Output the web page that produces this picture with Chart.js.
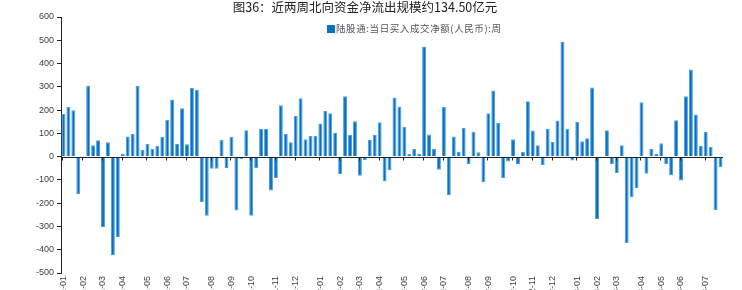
<!DOCTYPE html>
<html>
<head>
<meta charset="utf-8">
<script src="https://cdn.jsdelivr.net/npm/chart.js@4/dist/chart.umd.min.js"></script>
<style>
  html, body { margin: 0; padding: 0; background: #fff; }
  #wrap { position: relative; width: 742px; height: 290px; overflow: hidden; }
  #title {
    position: absolute; left: 0; top: 0; width: 730px; text-align: center;
    font: 12.5px "Noto Sans CJK SC", sans-serif; line-height: 14px; color: #222;
  }
  #legend {
    position: absolute; left: 327px; top: 22px;
    font: 9.5px "Noto Sans CJK SC", serif; line-height: 12px; color: #555;
    letter-spacing: 0.6px;
  }
  #legend span.box {
    display: inline-block; width: 8px; height: 8px; background: #0a70c2;
    vertical-align: -1px; margin-right: 1px;
  }
  canvas { position: absolute; left: 0; top: 0; }
</style>
</head>
<body>
<div id="wrap">
  <canvas id="chart" width="742" height="290"></canvas>
  <div id="title">图36：近两周北向资金净流出规模约134.50亿元</div>
  <div id="legend"><span class="box"></span>陆股通:当日买入成交净额(人民币):周</div>
</div>
<script>
// ──────────────────────────────────────────────────────────────
// Data (亿元, weekly)
// ──────────────────────────────────────────────────────────────
const seriesName = "陆股通:当日买入成交净额(人民币):周";

const values2021a = [
  183, 213, 199, -162, 3, 305, 49, 70, -302, 62, -424, -345, 12, 86,
  97, 305, 30, 54, 34, 47, 85, 158, 246, 54, 208, 53, 295,
];
const values2021b = [
  287, -196, -254, -52, -52, 73, -49, 85, -231, -11, 113, -254, -49,
  119, 119, -146, -92, 221, 97, 62, 175, 251, 75, 90, 90, 142,
];
const values2022a = [
  196, 186, 102, -75, 259, 93, 152, -82, -16, 72, 93, 148, -107, -59,
  254, 215, 128, 11, 33, 11, 473, 95, 34, -56, 213, -165, 87,
];
const values2022b = [
  21, 123, -32, 107, 19, -110, 186, 284, 145, -93, -21, 75, -32, 21,
  238, 112, 49, -36, 119, 63, 155, 493, 120, -17, 150, 66, 79,
];
const values2023 = [
  297, -268, 2, 113, -32, -70, 49, -371, -175, -136, 234, -73, 33, 11,
  57, -32, -80, 156, -103, 259, 374, 181, 46, 106, 42, -229, -46,
];
const netBuy = [...values2021a, ...values2021b, ...values2022a, ...values2022b, ...values2023];

// weekly categories (Fridays), 2021-01-08 onward
const firstWeek = "2021-01-08";
const weeks = [];
{
  const d = new Date(firstWeek + "T00:00:00Z");
  for (let i = 0; i < netBuy.length; i++) {
    weeks.push(d.toISOString().slice(0, 10));
    d.setUTCDate(d.getUTCDate() + 7);
  }
}
// a tick label on the first week of each month
const tickLabels = weeks.map((w, i) =>
  i === 0 || w.slice(0, 7) !== weeks[i - 1].slice(0, 7) ? w.slice(0, 7) : ""
);

const yTicks = { min: -500, max: 600, step: 100 };

// ──────────────────────────────────────────────────────────────
// Zero line + month ticks on it
// ──────────────────────────────────────────────────────────────
const zeroAxis = {
  id: "zeroAxis",
  afterDatasetsDraw(chart) {
    const { ctx, chartArea, scales } = chart;
    const y0 = Math.round(scales.y.getPixelForValue(0)) + 0.5;
    ctx.save();
    ctx.strokeStyle = "#222";
    ctx.lineWidth = 1;
    ctx.beginPath();
    ctx.moveTo(chartArea.left, y0);
    ctx.lineTo(chartArea.right, y0);
    tickLabels.forEach((t, i) => {
      if (!t) return;
      const px = Math.round(scales.x.getPixelForValue(i)) - 0.5;
      ctx.moveTo(px, y0);
      ctx.lineTo(px, y0 + 3);
    });
    ctx.stroke();
    ctx.restore();
  },
};

Chart.defaults.font.family = '"Liberation Sans", Arial, sans-serif';
Chart.defaults.color = "#404040";

new Chart(document.getElementById("chart"), {
  type: "bar",
  data: {
    labels: weeks,
    datasets: [{
      label: seriesName,
      data: netBuy,
      backgroundColor: "#0870c4",
      borderColor: "#4d9ee0",
      borderWidth: 1,
      barPercentage: 0.8,
      categoryPercentage: 1,
    }],
  },
  options: {
    responsive: false,
    animation: false,
    layout: { padding: { left: 0, right: 19, top: 17, bottom: 0 } },
    plugins: {
      legend: { display: false },
      title: { display: false },
      tooltip: { enabled: false },
    },
    scales: {
      x: {
        offset: true,
        grid: { display: false, drawTicks: false },
        border: { display: false },
        ticks: {
          autoSkip: false,
          minRotation: 90,
          maxRotation: 90,
          padding: 3,
          font: { size: 9 },
          callback: (v, i) => tickLabels[i],
        },
        afterFit: (s) => { s.height = 17; },
      },
      y: {
        min: yTicks.min,
        max: yTicks.max,
        grid: { drawOnChartArea: false, tickLength: 4, tickColor: "#222" },
        border: { display: true, color: "#222" },
        ticks: { stepSize: yTicks.step, padding: 3, font: { size: 9 } },
        afterFit: (s) => { s.width = 61; },
      },
    },
  },
  plugins: [zeroAxis],
});
</script>
</body>
</html>
